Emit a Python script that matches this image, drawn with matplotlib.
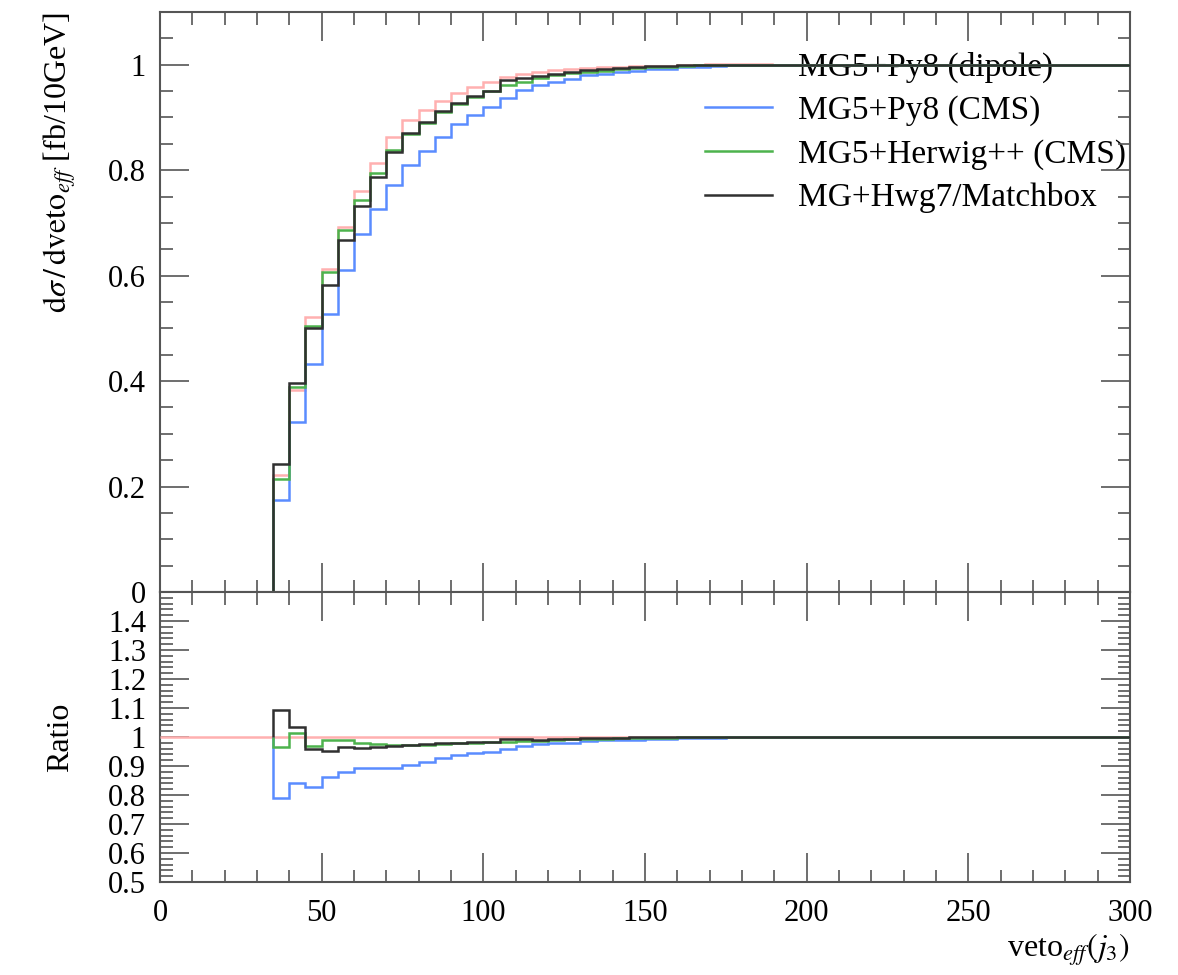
import numpy as np
import matplotlib
matplotlib.use('Agg')
import matplotlib.pyplot as plt
from matplotlib.ticker import MultipleLocator, FuncFormatter

plt.rcParams['font.family'] = ['Liberation Serif', 'DejaVu Serif']
plt.rcParams['mathtext.fontset'] = 'stix'

# 5 GeV bins from 0 to 300
edges = np.arange(0, 305, 5)

# bin contents 35..180 GeV (below 35: 0, above 180: 1)
dipole = [0.222, 0.383, 0.521, 0.613, 0.693, 0.761, 0.814, 0.862, 0.895, 0.914,
          0.932, 0.946, 0.958, 0.968, 0.977, 0.982, 0.987, 0.990, 0.992, 0.994,
          0.995, 0.996, 0.997, 0.998, 0.998, 0.999, 0.999, 1.0, 1.0]
py8_cms = [0.175, 0.322, 0.432, 0.528, 0.610, 0.679, 0.727, 0.771, 0.809, 0.836,
           0.863, 0.887, 0.904, 0.919, 0.937, 0.953, 0.962, 0.968, 0.972, 0.981,
           0.983, 0.986, 0.988, 0.991, 0.992, 0.995, 0.996, 0.998, 0.999]
hwpp_cms = [0.214, 0.388, 0.505, 0.607, 0.686, 0.744, 0.794, 0.838, 0.869, 0.889,
            0.910, 0.925, 0.939, 0.951, 0.961, 0.967, 0.974, 0.980, 0.984, 0.987,
            0.989, 0.991, 0.993, 0.995, 0.996, 0.998, 0.999, 1.0, 1.0]
matchbox = [0.243, 0.396, 0.500, 0.583, 0.668, 0.733, 0.787, 0.835, 0.870, 0.891,
            0.912, 0.928, 0.940, 0.951, 0.971, 0.974, 0.978, 0.983, 0.986, 0.990,
            0.992, 0.994, 0.996, 0.998, 0.998, 0.999, 0.999, 1.0, 1.0]

labels = ['MG5+Py8 (dipole)', 'MG5+Py8 (CMS)', 'MG5+Herwig++ (CMS)', 'MG+Hwg7/Matchbox']
colors = ['#ffb0b0', '#5a8cff', '#4db34d', '#303030']

low = [0.0] * 7     # 0-35 GeV
high = [1.0] * 24   # 180-300 GeV
series = [np.array(low + s + high) for s in (dipole, py8_cms, hwpp_cms, matchbox)]
ref = series[0]

fig = plt.figure(figsize=(11.78, 9.75), dpi=100)
ax = fig.add_axes([0.1358, 0.3928, 0.8235, 0.5949])
rax = fig.add_axes([0.1358, 0.0954, 0.8235, 0.2974], sharex=ax)

for i, (s, lab, c) in enumerate(zip(series, labels, colors)):
    ax.stairs(s, edges, color=c, lw=1.8, label=lab, zorder=3 + i, baseline=None)

# ratio to dipole
start = np.argmax(ref > 0)
rax.stairs(np.ones(len(ref)), edges, color=colors[0], lw=1.8, zorder=3, baseline=None)
for i, (s, c) in enumerate(zip(series[1:], colors[1:])):
    r = s[start:] / ref[start:]
    rax.stairs(r, edges[start:], color=c, lw=1.8, zorder=4 + i, baseline=1.0)

ax.set_xlim(0, 300)
ax.set_ylim(0, 1.1)
rax.set_ylim(0.5, 1.5)

for a in (ax, rax):
    a.tick_params(which='both', direction='in', top=True, right=True, labelsize=22,
                  color='#555555', width=1.2, pad=10)
    a.tick_params(which='major', length=21)
    a.tick_params(which='minor', length=9)
    for sp in a.spines.values():
        sp.set_color('#555555')
        sp.set_linewidth(1.5)
    a.xaxis.set_major_locator(MultipleLocator(50))
    a.xaxis.set_minor_locator(MultipleLocator(10))

ax.yaxis.set_major_locator(MultipleLocator(0.2))
ax.yaxis.set_minor_locator(MultipleLocator(0.05))
ax.yaxis.set_major_formatter(FuncFormatter(lambda v, p: '%g' % round(v, 2)))
plt.setp(ax.get_xticklabels(), visible=False)

rax.set_yticks(np.arange(0.5, 1.45, 0.1))
rax.yaxis.set_minor_locator(MultipleLocator(0.02))
rax.yaxis.set_major_formatter(FuncFormatter(lambda v, p: '%g' % round(v, 2)))
rax.tick_params(axis='x', pad=12)

ax.set_ylabel(r'$\mathrm{d}\sigma\,/\,\mathrm{d}\mathrm{veto}_{eff}$ [fb/10GeV]', fontsize=23,
              loc='top', labelpad=22)
rax.set_ylabel('Ratio', fontsize=23, labelpad=24)
rax.set_xlabel(r'veto$_{eff}(j_3)$', fontsize=23, loc='right', labelpad=3)

leg = ax.legend(loc='upper right', frameon=False, fontsize=24, handlelength=2.0,
                handletextpad=0.8, labelspacing=0.38, borderaxespad=0.0,
                bbox_to_anchor=(1.01, 0.955))
leg.set_zorder(1)

fig.savefig('out.png', dpi=100)
